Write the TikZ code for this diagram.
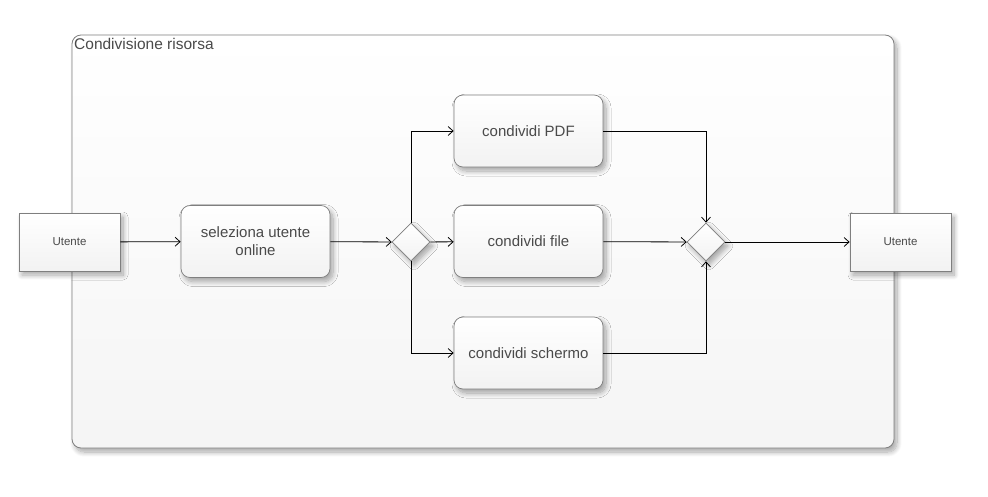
\documentclass[tikz,border=0pt]{standalone}
\usepackage{fontspec}
\setmainfont{Liberation Sans}
\usetikzlibrary{arrows.meta,shapes.geometric,shadows.blur}
\definecolor{bordergray}{HTML}{7F7F7F}
\definecolor{txtgray}{HTML}{4A4A4A}
\tikzset{
  shd/.style={blur shadow={shadow xshift=3pt,shadow yshift=-4pt,shadow blur steps=10,shadow blur radius=5pt,shadow opacity=35}},
  container/.style={draw=bordergray,line width=0.8pt,rounded corners=9pt,top color=white,bottom color=gray!8,shd,inner sep=0pt},
  ubox/.style={draw=bordergray,line width=0.7pt,top color=white,bottom color=gray!10,shd,minimum width=101pt,minimum height=58pt,text=txtgray,font=\fontsize{11.5}{13}\selectfont},
  act/.style={draw=bordergray,line width=0.7pt,rounded corners=9pt,top color=white,bottom color=gray!10,shd,minimum width=149pt,minimum height=72pt,text=txtgray,align=center,font=\fontsize{15}{18}\selectfont},
  gate/.style={diamond,draw=bordergray,line width=0.7pt,top color=white,bottom color=gray!10,shd,inner sep=0pt,minimum width=38pt,minimum height=38pt},
  flow/.style={draw=black,line width=0.8pt,-{Straight Barb[length=5pt,width=9pt]}},
  title/.style={text=txtgray,font=\fontsize{15.5}{18}\selectfont,inner sep=0pt,anchor=north west}
}
\begin{document}
\begin{tikzpicture}[x=1pt,y=-1pt]
\useasboundingbox (0,0) rectangle (988,496);
\node[container,minimum width=822pt,minimum height=413pt] (cont) at (483,241.5) {};
\node[title] (ttl) at (74,38) {Condivisione risorsa};
\node[ubox] (u1) at (69.5,242) {Utente};
\node[act] (sel) at (255.5,241.5) {seleziona utente\\online};
\node[gate] (g1) at (411,242) {};
\node[act] (pdf) at (528.5,131) {condividi PDF};
\node[act] (file) at (528.5,241.5) {condividi file};
\node[act] (scr) at (528.5,353) {condividi schermo};
\node[gate] (g2) at (706,242) {};
\node[ubox] (u2) at (900.5,242) {Utente};
\draw[flow] (u1) -- (sel);
\draw[flow] (sel) -- (g1);
\draw[flow] (g1) -- (file);
\draw[flow] (g1.north) |- (pdf);
\draw[flow] (g1.south) |- (scr);
\draw[flow] (pdf) -| (g2.north);
\draw[flow] (scr) -| (g2.south);
\draw[flow] (file) -- (g2);
\draw[flow] (g2) -- (u2);
\end{tikzpicture}
\end{document}
